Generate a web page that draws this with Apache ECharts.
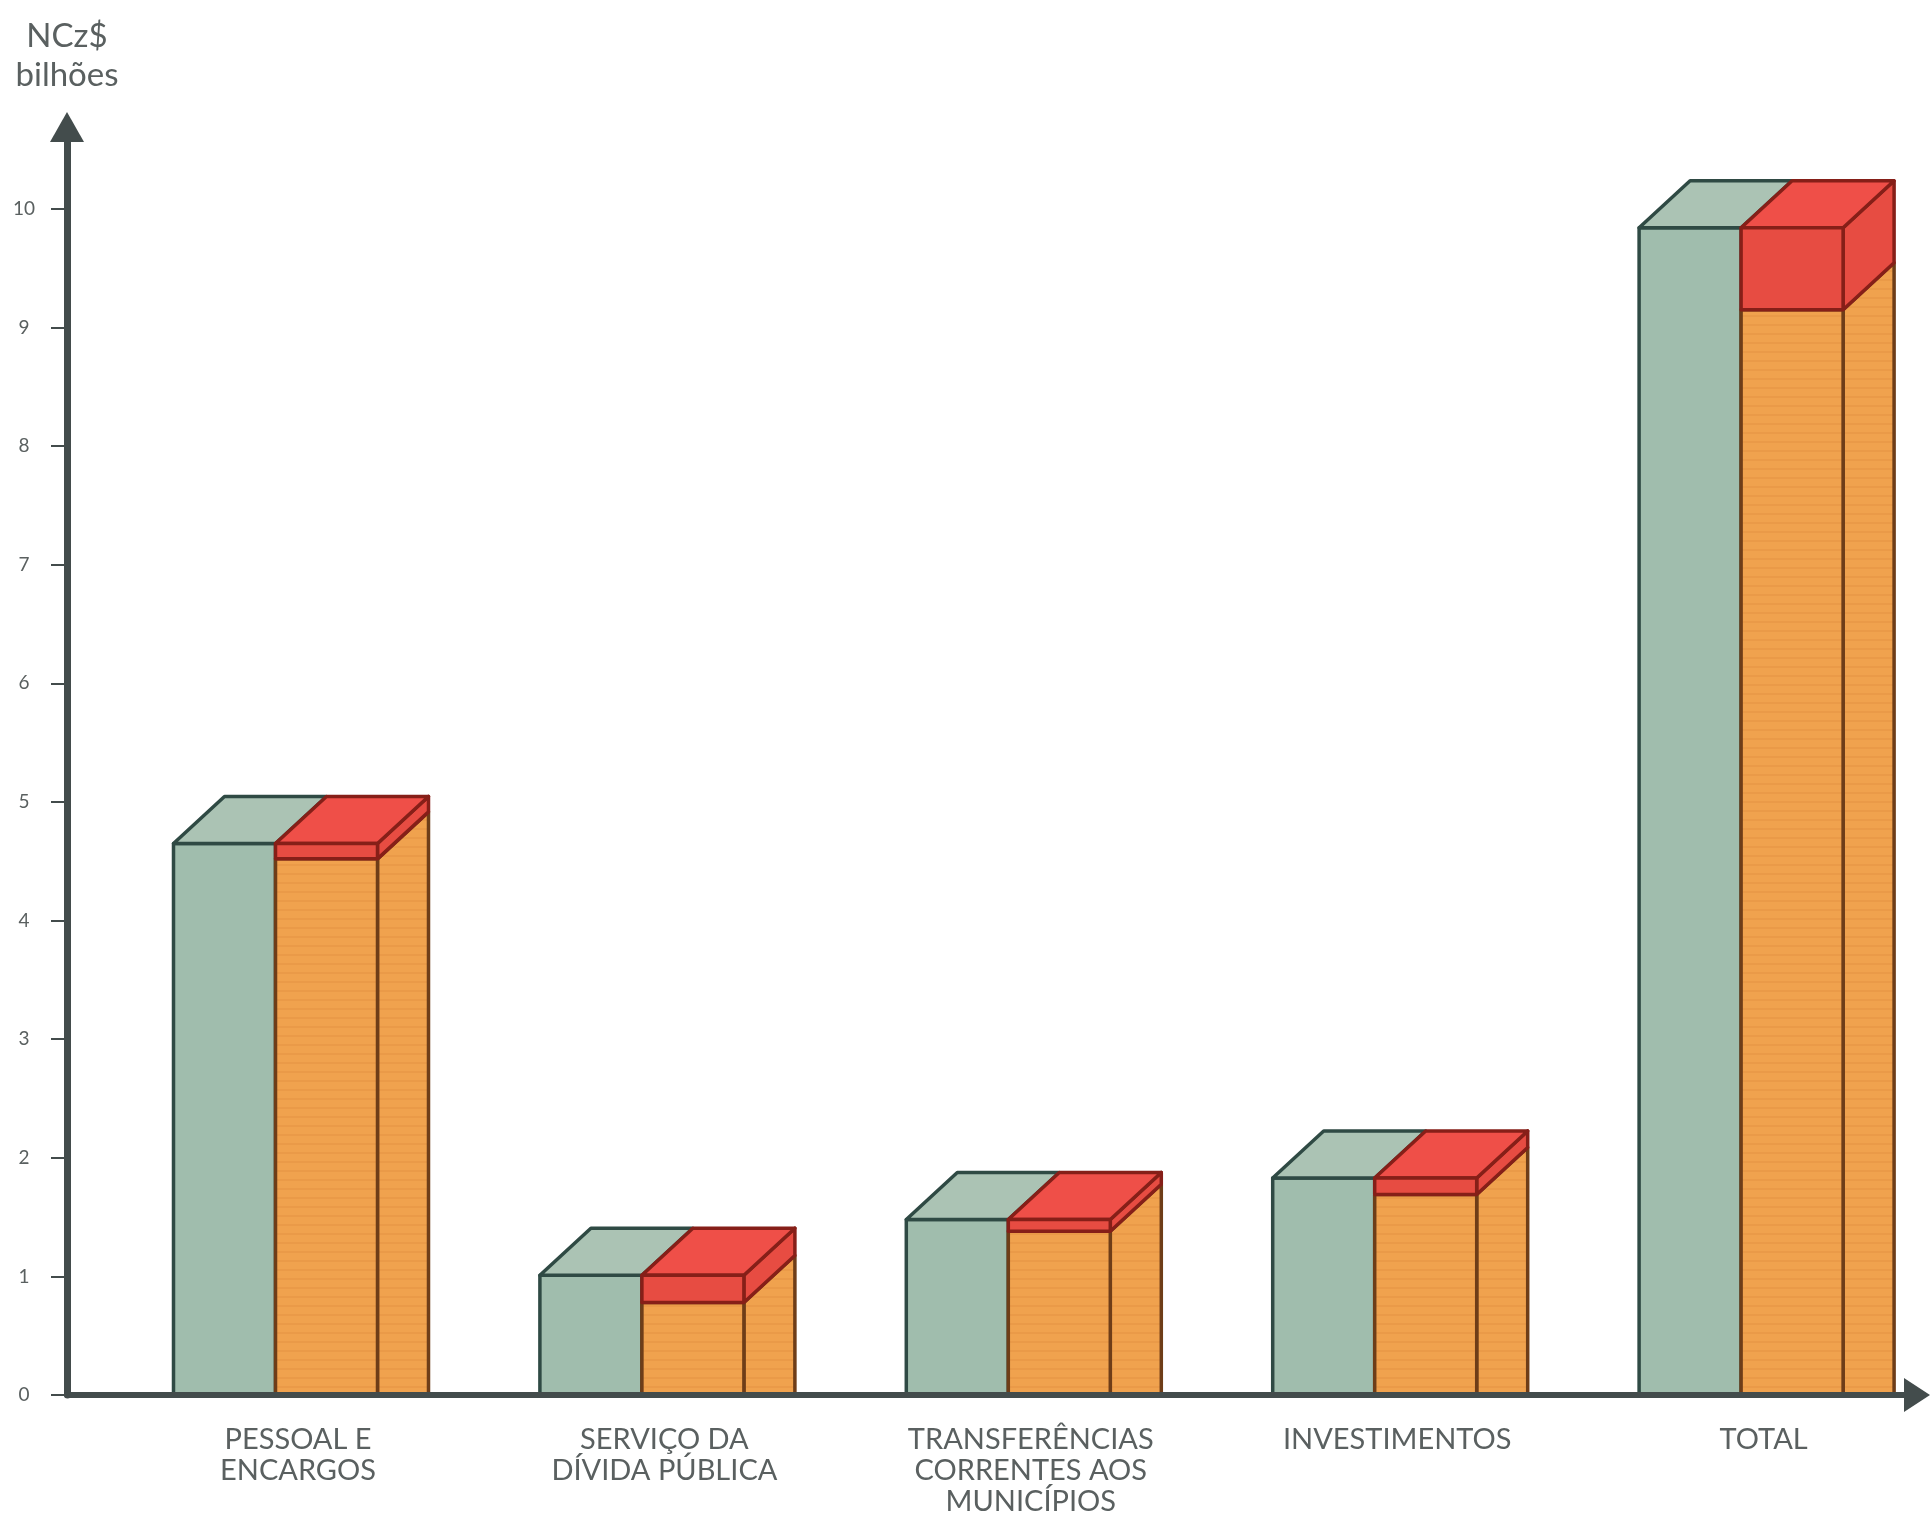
<!DOCTYPE html>
<html>
<head>
<meta charset="utf-8">
<style>html,body{margin:0;padding:0;background:#fff}#c{width:1930px;height:1516px}</style>
<script src="https://cdn.jsdelivr.net/npm/echarts@6/dist/echarts.min.js"></script>
</head>
<body>
<div id="c"></div>
<script>
var categories = ['PESSOAL E\nENCARGOS', 'SERVIÇO DA\nDÍVIDA PÚBLICA', 'TRANSFERÊNCIAS\nCORRENTES AOS\nMUNICÍPIOS', 'INVESTIMENTOS', 'TOTAL'];
var totalValues = [4.65, 1.01, 1.48, 1.83, 9.84];
var orangeValues = [4.52, 0.78, 1.38, 1.69, 9.15];
var yTicks = [0, 1, 2, 3, 4, 5, 6, 7, 8, 9, 10];

var FONT = 'Lato, "Open Sans", sans-serif';
var TEXT = '#5a6060';
var AXIS = '#434c4c';
var GREEN = '#a0bdad', GREEN_TOP = '#abc3b4', GREEN_LINE = '#2f4a44';
var ORANGE = '#f0a24e', ORANGE_LINE = '#6e3d18';
var RED = '#e74c42', RED_TOP = '#ef4f48', RED_LINE = '#861f18';
var FACE = 102, DX = 51, DY = 47, SHIFT = 124.5, LW = 3.5;

// faint horizontal print screen seen on the orange faces
var tile = document.createElement('canvas');
tile.width = 8; tile.height = 9;
var tc = tile.getContext('2d');
tc.fillStyle = ORANGE; tc.fillRect(0, 0, 8, 9);
tc.fillStyle = '#ea9a48'; tc.fillRect(0, 0, 8, 2);
var ORANGE_FILL = { image: tile, repeat: 'repeat' };

function poly(points, fill, stroke) {
  return { type: 'polygon', shape: { points: points }, style: { fill: fill, stroke: stroke, lineWidth: LW, lineJoin: 'round' } };
}

function renderBar(params, api) {
  var i = api.value(0);
  var total = api.value(1), orange = api.value(2);
  var base = api.coord([i, 0]);
  var y0 = base[1];
  var yT = api.coord([i, total])[1], yO = api.coord([i, orange])[1];
  var x0 = base[0] - SHIFT;
  var x1 = x0 + FACE, x2 = x1 + FACE, x3 = x2 + DX;
  return {
    type: 'group',
    children: [
      poly([[x0, yT], [x1, yT], [x1, y0], [x0, y0]], GREEN, GREEN_LINE),
      poly([[x0, yT], [x1, yT], [x1 + DX, yT - DY], [x0 + DX, yT - DY]], GREEN_TOP, GREEN_LINE),
      poly([[x2, yO], [x3, yO - DY], [x3, y0], [x2, y0]], ORANGE_FILL, ORANGE_LINE),
      poly([[x2, yT], [x3, yT - DY], [x3, yO - DY], [x2, yO]], RED, RED_LINE),
      poly([[x1, yT], [x2, yT], [x3, yT - DY], [x1 + DX, yT - DY]], RED_TOP, RED_LINE),
      poly([[x1, yO], [x2, yO], [x2, y0], [x1, y0]], ORANGE_FILL, ORANGE_LINE),
      poly([[x1, yT], [x2, yT], [x2, yO], [x1, yO]], RED, RED_LINE)
    ]
  };
}

var chart = echarts.init(document.getElementById('c'), null, { renderer: 'canvas' });
var AXIS_MAX = 10.69;
chart.setOption({
  backgroundColor: '#ffffff',
  animation: false,
  grid: [
    { left: 114.8, width: 1832, top: 127, height: 1268, outerBoundsMode: 'none' },
    { left: 67, width: 1850, top: 127, height: 1268, outerBoundsMode: 'none' }
  ],
  xAxis: [
    {
      type: 'category', gridIndex: 0, data: categories,
      axisLine: { show: false }, axisTick: { show: false },
      axisLabel: { interval: 0, margin: 29, fontFamily: FONT, fontSize: 29, lineHeight: 31, color: TEXT, align: 'center' }
    },
    {
      type: 'value', gridIndex: 1, min: 0, max: 1, z: 10,
      axisLine: { show: true, lineStyle: { color: AXIS, width: 6 }, symbol: ['none', 'triangle'], symbolSize: [34, 26] },
      axisTick: { show: false }, axisLabel: { show: false }, splitLine: { show: false }
    }
  ],
  yAxis: [
    {
      type: 'value', gridIndex: 0, min: 0, max: AXIS_MAX,
      axisLine: { show: false }, axisTick: { show: false }, axisLabel: { show: false }, splitLine: { show: false }
    },
    {
      type: 'value', gridIndex: 1, min: 0, max: AXIS_MAX, z: 10,
      name: 'NCz$\nbilhões', nameLocation: 'end', nameGap: 32,
      nameTextStyle: { fontFamily: FONT, fontSize: 33, lineHeight: 39, color: TEXT, align: 'center', verticalAlign: 'bottom' },
      axisLine: { show: true, onZero: false, lineStyle: { color: AXIS, width: 7 }, symbol: ['none', 'triangle'], symbolSize: [34, 30] },
      axisTick: { show: true, length: 16, lineStyle: { color: AXIS, width: 2 }, customValues: yTicks },
      axisLabel: { margin: 43, align: 'center', fontFamily: FONT, fontSize: 19, color: TEXT, customValues: yTicks },
      splitLine: { show: false }
    }
  ],
  series: [{
    type: 'custom', xAxisIndex: 0, yAxisIndex: 0, renderItem: renderBar, z: 2,
    data: categories.map(function (c, i) { return [i, totalValues[i], orangeValues[i]]; }),
    encode: { x: 0, y: [1, 2] }
  }]
});
</script>
</body>
</html>
